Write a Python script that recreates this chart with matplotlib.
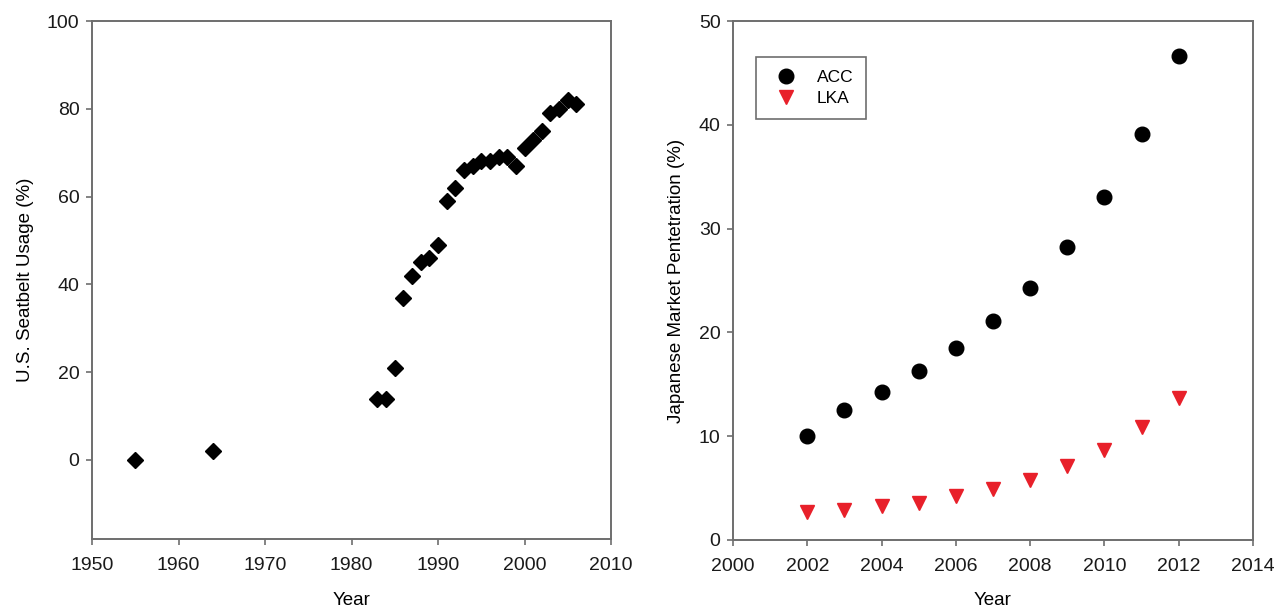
import matplotlib.pyplot as plt

# left panel: U.S. seatbelt usage
belt_years = [1955, 1964, 1983, 1984, 1985, 1986, 1987, 1988, 1989, 1990, 1991,
              1992, 1993, 1994, 1995, 1996, 1997, 1998, 1999, 2000, 2001, 2002,
              2003, 2004, 2005, 2006]
belt_usage = [0, 2, 14, 14, 21, 37, 42, 45, 46, 49, 59,
              62, 66, 67, 68, 68, 69, 69, 67, 71, 73, 75,
              79, 80, 82, 81]

# right panel: Japanese market penetration
jp_years = [2002, 2003, 2004, 2005, 2006, 2007, 2008, 2009, 2010, 2011, 2012]
acc = [10.0, 12.5, 14.3, 16.3, 18.5, 21.1, 24.3, 28.2, 33.0, 39.1, 46.6]
lka = [2.7, 2.9, 3.3, 3.6, 4.2, 4.9, 5.8, 7.1, 8.7, 10.9, 13.7]


def style(ax):
    for s in ax.spines.values():
        s.set_color("#6e6e6e")
        s.set_linewidth(1.4)
    ax.tick_params(direction="out", length=4, width=1.2, color="#6e6e6e",
                   labelsize=14, labelcolor="#1a1a1a")
    ax.tick_params(axis="x", pad=9)
    ax.tick_params(axis="y", pad=5)


def main():
    plt.rcParams["font.family"] = ["Liberation Sans", "DejaVu Sans"]
    fig = plt.figure(figsize=(12.74, 6.09), dpi=100)
    W, H = 1274, 609
    ax1 = fig.add_axes([92 / W, 1 - 539 / H, (611 - 92) / W, (539 - 21) / H])
    ax2 = fig.add_axes([733 / W, 1 - 540 / H, (1253 - 733) / W, (540 - 21) / H])

    ax1.plot(belt_years, belt_usage, "D", color="black", ms=8, ls="none")
    ax1.set_xlim(1950, 2010)
    ax1.set_ylim(-18, 100)
    ax1.set_xticks(range(1950, 2011, 10))
    ax1.set_yticks(range(0, 101, 20))
    ax1.set_xlabel("Year", fontsize=13.5, labelpad=13)
    ax1.set_ylabel("U.S. Seatbelt Usage (%)", fontsize=13.5, labelpad=9)
    style(ax1)

    ax2.plot(jp_years, acc, "o", color="black", ms=10.5, ls="none", label="ACC")
    ax2.plot(jp_years, lka, "v", color="#e8202a", ms=9.5, ls="none", label="LKA")
    ax2.set_xlim(2000, 2014)
    ax2.set_ylim(0, 50)
    ax2.set_xticks(range(2000, 2015, 2))
    ax2.set_yticks(range(0, 51, 10))
    ax2.set_xlabel("Year", fontsize=13.5, labelpad=12)
    ax2.set_ylabel("Japanese Market Pentetration (%)", fontsize=13.5, labelpad=10)
    style(ax2)

    leg = ax2.legend(loc="upper left", bbox_to_anchor=(0.044, 0.931), fontsize=12.5,
                     fancybox=False, framealpha=1, edgecolor="#6e6e6e",
                     borderaxespad=0, handletextpad=0.75, borderpad=0.75,
                     labelspacing=0.35)
    leg.get_frame().set_linewidth(1.2)

    fig.savefig("out.png", dpi=100)


if __name__ == "__main__":
    main()
